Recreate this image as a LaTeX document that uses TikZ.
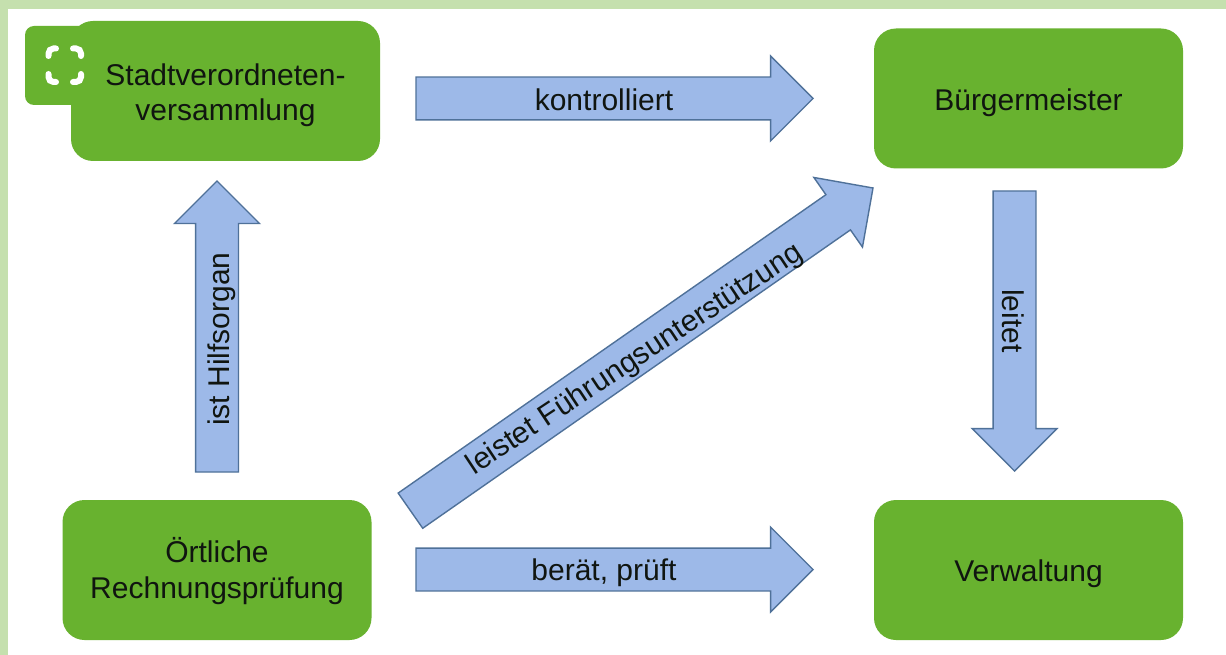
\documentclass[tikz,border=0pt]{standalone}
\usepackage{fontspec}
\setmainfont{Liberation Sans}
\usetikzlibrary{shapes.arrows}
\definecolor{pagegreen}{HTML}{C5E0AE}
\definecolor{boxgreen}{HTML}{68B22F}
\definecolor{arrowblue}{HTML}{9DB9E8}
\definecolor{arrowedge}{HTML}{4F7199}
\definecolor{inktext}{HTML}{101510}
\tikzset{
  x=1pt,y=-1pt,
  greenbox/.style={draw=none,fill=boxgreen,rounded corners=22pt,minimum width=309pt,minimum height=140pt,
    inner sep=0pt,outer sep=0pt},
  boxtext/.style={inner sep=0pt,outer sep=0pt,align=center,text=inktext,font=\fontsize{30}{35.5}\selectfont},
  blockarrow/.style={shape=single arrow,draw=arrowedge,fill=arrowblue,line width=1.4pt,inner sep=0pt,outer sep=0pt,
    text height=41.5pt,text depth=0pt,text width=0pt,
    minimum width=84pt,single arrow head extend=21pt,single arrow tip angle=90,single arrow head indent=0pt,anchor=tip},
  arrowlabel/.style={inner sep=0pt,outer sep=0pt,text=inktext,font=\fontsize{30}{35}\selectfont},
  iconline/.style={draw=white,line width=6pt,line cap=round,rounded corners=5pt}
}
\begin{document}
\begin{tikzpicture}
\useasboundingbox (0,0) rectangle (1226,655);
\fill[pagegreen] (0,0) rectangle (1226,655);
\fill[white] (8,9) rectangle (1226,655);
% boxes
\node[greenbox] (stadt) at (225.5,91) {};
\node[greenbox] (buerger) at (1028.5,98.5) {};
\node[greenbox] (pruefung) at (217,570) {};
\node[greenbox] (verwaltung) at (1028.5,570) {};
\node[boxtext] (stadtT) at ([yshift=-4pt]stadt.center) {Stadtverordneten-\\versammlung};
\node[boxtext] (buergerT) at ([yshift=-4.5pt]buerger.center) {Bürgermeister};
\node[boxtext] (pruefungT) at ([yshift=-1pt]pruefung.center) {Örtliche\\Rechnungsprüfung};
\node[boxtext] (verwaltungT) at ([yshift=-4pt]verwaltung.center) {Verwaltung};
% block arrows
\node[blockarrow,minimum height=397pt] (a1) at (813,98.5) {};
\node[blockarrow,minimum height=397pt] (a2) at (813,569.5) {};
\node[blockarrow,minimum height=291pt,rotate=90] (a3) at (217,181) {};
\node[blockarrow,minimum height=280pt,rotate=-90] (a4) at (1014.5,471) {};
\node[blockarrow,minimum height=564pt,rotate=34.9] (a5) at (873,188) {};
% labels
\node[arrowlabel] (l1) at (604,100) {kontrolliert};
\node[arrowlabel] (l2) at (604,573) {berät, prüft};
\node[arrowlabel,rotate=90] (l3) at (222,339) {ist Hilfsorgan};
\node[arrowlabel,rotate=-90] (l4) at (1013,321) {leitet};
\node[arrowlabel,rotate=33.5] (l5) at (635,360) {leistet Führungsunterstützung};
% expand badge
\fill[boxgreen,rounded corners=9pt] (25,26) rectangle (100,105);
\draw[iconline] (48.5,56) -- (48.5,48.5) -- (56,48.5);
\draw[iconline] (73,48.5) -- (81,48.5) -- (81,56);
\draw[iconline] (48.5,74) -- (48.5,82) -- (56,82);
\draw[iconline] (73,82) -- (81,82) -- (81,74);
\end{tikzpicture}
\end{document}
